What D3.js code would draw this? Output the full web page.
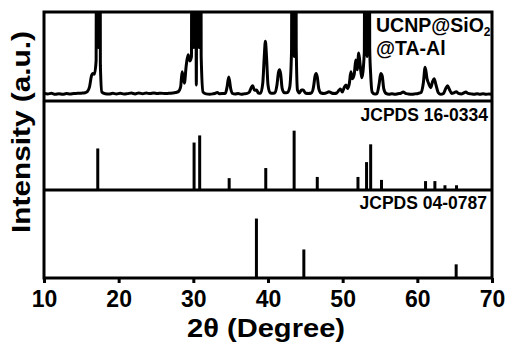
<!DOCTYPE html>
<html>
<head>
<meta charset="utf-8">
<script src="https://cdn.jsdelivr.net/npm/d3@7"></script>
<style>
  body { margin: 0; background: #fff; }
  text { font-family: "Liberation Sans", Arial, sans-serif; font-weight: bold; fill: #000; }
</style>
</head>
<body>
<div id="chart"></div>
<script>
// XRD pattern of the sample (2theta, intensity in % of panel height)
// the strong peaks run far off the top of the panel and get clipped
var sampleTheta = [10.0, 10.5, 11.0, 11.5, 12.0, 12.5, 13.0, 13.5, 14.0, 14.5, 15.0, 15.5, 15.8, 16.1, 16.35, 16.55, 16.75, 16.98, 17.05, 17.25, 17.3, 17.35, 17.48, 17.55, 17.75,
  18.2, 18.7, 19.2, 19.7, 20.2, 20.7, 21.2, 21.7, 22.2, 22.7, 23.2, 23.7, 24.2, 24.7, 25.2, 25.7, 26.2, 26.7, 27.2, 27.6, 28.0,
  28.3, 28.5, 28.8, 29.05, 29.3, 29.55, 29.75, 29.82, 30.0, 30.06, 30.12, 30.3, 30.4, 30.5, 30.7, 30.76, 30.82, 30.98, 31.05, 31.3, 31.7,
  32.2, 32.6, 33.0, 33.2, 33.5, 33.9, 34.3, 34.5, 34.75, 35.0, 35.2, 35.6, 36.0, 36.4, 36.8, 37.2, 37.5, 37.75, 37.95, 38.2, 38.45, 38.7,
  39.0, 39.3, 39.5, 39.65, 39.8, 40.0, 40.3, 40.6, 40.9, 41.2, 41.4, 41.55, 41.7, 41.9, 42.2, 42.6, 42.9, 43.15, 43.25, 43.45, 43.5, 43.55, 43.7, 43.78, 43.95,
  44.2, 44.5, 44.7, 45.0, 45.4, 45.8, 46.1, 46.3, 46.45, 46.6, 46.8, 47.1, 47.5, 47.9, 48.15, 48.5, 48.9, 49.2, 49.5, 49.7, 49.95,
  50.2, 50.45, 50.65, 50.9, 51.1, 51.3, 51.55, 51.75, 51.95, 52.15, 52.35, 52.55, 52.9, 53.0, 53.2, 53.27, 53.35, 53.55, 53.62, 53.75, 53.95,
  54.3, 54.6, 54.9, 55.1, 55.3, 55.5, 55.8, 56.2, 56.6, 57.0, 57.4, 57.8, 58.1, 58.4, 58.8, 59.3, 59.7, 60.1, 60.5, 60.8, 61.05,
  61.3, 61.55, 61.8, 62.05, 62.25, 62.5, 62.8, 63.15, 63.5, 63.8, 64.05, 64.3, 64.6, 64.95, 65.2, 65.5, 65.9, 66.2, 66.5, 66.8,
  67.2, 67.6, 68.0, 68.4, 68.8, 69.2, 69.6, 70.0];
var sampleInt = [8.4, 8.0, 8.6, 7.6, 8.2, 7.5, 8.3, 7.8, 8.5, 8.6, 8.8, 9.3, 10.5, 16, 28, 31, 30, 45, 400, 400, 60, 400, 400, 40, 10,
  8.2, 7.8, 8.6, 7.9, 8.7, 7.8, 8.3, 8.9, 8.0, 9.0, 8.2, 8.9, 8.3, 9.1, 8.4, 8.8, 8.3, 8.6, 9.0, 9.5, 10.5,
  16, 33, 20, 40, 52, 45, 50, 400, 400, 60, 400, 400, 18, 400, 400, 60, 400, 400, 50, 10, 8.0,
  7.6, 8.0, 8.8, 9.6, 8.2, 8.3, 8.7, 15, 27, 14, 8.8, 7.8, 8.4, 7.6, 8.0, 8.5, 10, 15, 17, 12, 12.5, 9.0,
  8.6, 20, 50, 67, 50, 18, 9.2, 8.6, 9.2, 18, 32, 35, 30, 14, 9.2, 9.5, 15, 55, 400, 400, 50, 400, 400, 60, 12,
  9.0, 12.5, 12.5, 9.0, 8.5, 9.0, 16, 28, 31, 27, 14, 9.0, 8.5, 9.4, 10.5, 9.0, 8.5, 9.0, 12, 13.5, 10,
  15, 18, 14, 20, 33, 25, 30, 46, 35, 54, 40, 26, 55, 400, 400, 50, 400, 400, 60, 30, 10,
  7.8, 8.3, 20, 31, 28, 14, 8.6, 7.6, 8.1, 7.6, 8.2, 8.7, 10.2, 8.6, 7.9, 7.5, 8.0, 8.5, 9.6, 20, 38,
  25, 19, 15, 22, 25, 18, 9.5, 7.5, 8.5, 14, 17, 13, 8.5, 9.5, 10.5, 8.6, 8.0, 9.0, 10, 8.5,
  8.0, 7.5, 8.2, 7.7, 8.1, 7.5, 7.9, 7.5];

// JCPDS 16-0334 reference lines (2theta, relative intensity)
var refATheta = [17.2, 30.1, 30.85, 34.8, 39.7, 43.5, 46.6, 52.05, 53.2, 53.75, 55.2, 61.1, 62.35, 63.7, 65.25];
var refAInt = [70, 80, 92, 20, 37, 100, 22, 22, 47, 77, 17, 15, 15, 8, 8];

// JCPDS 04-0787 reference lines
var refBTheta = [38.45, 44.8, 65.2];
var refBInt = [100, 48, 23];

var xTicks = [10, 20, 30, 40, 50, 60, 70];

var svgWidth = 507;
var svgHeight = 347;

var margin = { top: 12, right: 15, bottom: 69, left: 44 };
var width = svgWidth - margin.left - margin.right;
var height = svgHeight - margin.top - margin.bottom;

var svg = d3.select("#chart")
  .append("svg")
  .attr("width", svgWidth)
  .attr("height", svgHeight);

var chartGroup = svg.append("g")
  .attr("transform", `translate(${margin.left}, ${margin.top})`);

// three stacked panels
var p1 = 89, p2 = 89;

var xScale = d3.scaleLinear().domain([10, 70]).range([0, width]);
var y1 = d3.scaleLinear().domain([0, 100]).range([p1, 0]);
var y2 = d3.scaleLinear().domain([0, 150]).range([p1 + p2, p1]);
var y3 = d3.scaleLinear().domain([0, 148]).range([height, p1 + p2]);

// clip for top panel
svg.append("defs").append("clipPath")
  .attr("id", "clipTop")
  .append("rect")
  .attr("x", 0).attr("y", 0)
  .attr("width", width).attr("height", p1);

var sample = sampleTheta.map((t, i) => ({ t: t, v: sampleInt[i] }));

var line = d3.line()
  .x(d => xScale(d.t))
  .y(d => y1(d.v))
  .curve(d3.curveMonotoneX);

chartGroup.append("path")
  .datum(sample)
  .attr("clip-path", "url(#clipTop)")
  .attr("d", line)
  .attr("fill", "none")
  .attr("stroke", "#000")
  .attr("stroke-width", 3)
  .attr("stroke-linejoin", "round");

// reference sticks
chartGroup.selectAll(".stickA")
  .data(refATheta)
  .enter()
  .append("line")
  .attr("class", "stickA")
  .attr("x1", d => xScale(d))
  .attr("x2", d => xScale(d))
  .attr("y1", y2(0))
  .attr("y2", (d, i) => y2(refAInt[i]))
  .attr("stroke", "#000")
  .attr("stroke-width", 3);

chartGroup.selectAll(".stickB")
  .data(refBTheta)
  .enter()
  .append("line")
  .attr("class", "stickB")
  .attr("x1", d => xScale(d))
  .attr("x2", d => xScale(d))
  .attr("y1", y3(0))
  .attr("y2", (d, i) => y3(refBInt[i]))
  .attr("stroke", "#000")
  .attr("stroke-width", 3);

// frame and panel dividers
chartGroup.append("rect")
  .attr("width", width)
  .attr("height", height)
  .attr("fill", "none")
  .attr("stroke", "#000")
  .attr("stroke-width", 3);

[p1, p1 + p2].forEach(function(yy) {
  chartGroup.append("line")
    .attr("x1", 0).attr("x2", width)
    .attr("y1", yy).attr("y2", yy)
    .attr("stroke", "#000")
    .attr("stroke-width", 3);
});

// x axis
var bottomAxis = d3.axisBottom(xScale)
  .tickValues(xTicks)
  .tickSize(5)
  .tickPadding(8);

var xAxis = chartGroup.append("g")
  .attr("transform", `translate(0, ${height})`)
  .call(bottomAxis);
xAxis.select(".domain").remove();
xAxis.selectAll("line").attr("stroke-width", 3);
xAxis.selectAll("text")
  .style("font-size", "23px")
  .style("font-family", "'Liberation Sans', Arial, sans-serif")
  .style("font-weight", "bold");

// axis titles
svg.append("text")
  .attr("x", 266)
  .attr("y", 337)
  .attr("text-anchor", "middle")
  .attr("textLength", 158)
  .attr("lengthAdjust", "spacingAndGlyphs")
  .style("font-size", "25px")
  .text("2θ (Degree)");

svg.append("text")
  .attr("transform", "translate(30, 132) rotate(-90)")
  .attr("text-anchor", "middle")
  .attr("textLength", 202)
  .attr("lengthAdjust", "spacingAndGlyphs")
  .style("font-size", "25px")
  .text("Intensity (a.u.)");

// panel labels
var lab1 = svg.append("text")
  .attr("x", 376)
  .attr("y", 31.5)
  .style("font-size", "19.5px");
lab1.append("tspan").text("UCNP@SiO");
lab1.append("tspan").attr("dy", 4).style("font-size", "12px").text("2");

svg.append("text")
  .attr("x", 376)
  .attr("y", 55)
  .style("font-size", "19.5px")
  .text("@TA-Al");

svg.append("text")
  .attr("x", 488)
  .attr("y", 120.5)
  .attr("text-anchor", "end")
  .style("font-size", "17.5px")
  .text("JCPDS 16-0334");

svg.append("text")
  .attr("x", 487)
  .attr("y", 208.5)
  .attr("text-anchor", "end")
  .style("font-size", "17.5px")
  .text("JCPDS 04-0787");
</script>
</body>
</html>
